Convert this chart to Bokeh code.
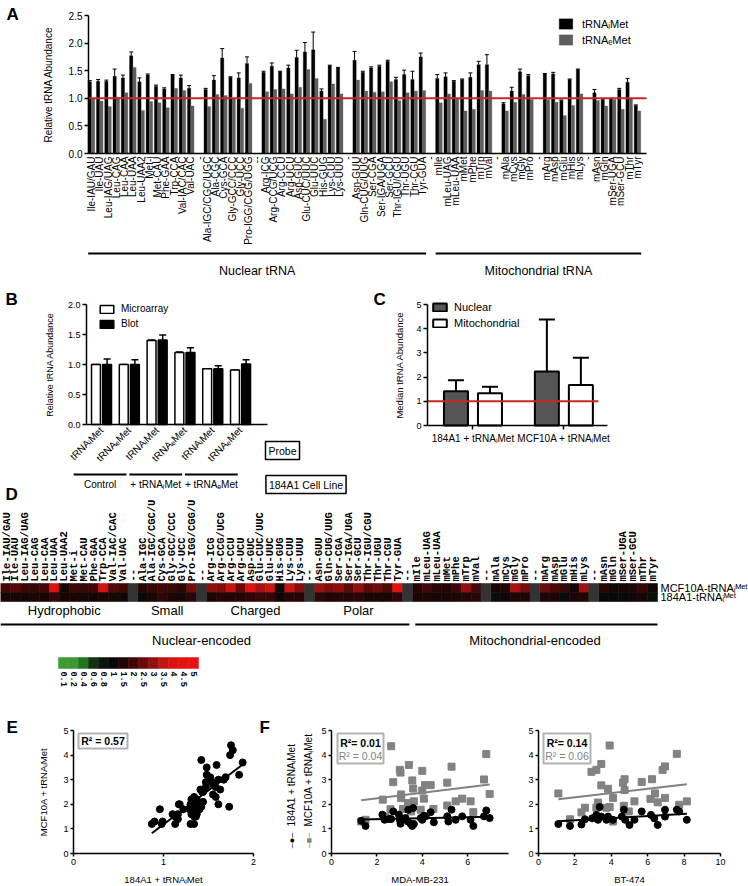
import numpy as np
from math import pi
from bokeh.plotting import figure
from bokeh.models import (Range1d, FixedTicker, Label, Legend, LegendItem, LinearAxis,
                          ColumnDataSource, Whisker, TeeHead, BoxAnnotation,
                          PrintfTickFormatter)
from bokeh.core.properties import value
from bokeh.embed import file_html
from bokeh.resources import INLINE

# ---------------- data ----------------
a_labels = ["Ile-IAU/GAU", "Ile-UAU", "Leu-IAG/UAG", "Leu-CAG", "Leu-CAA", "Leu-UAA", "Leu-UAA2",
            "Met-i", "Met-CAU", "Phe-GAA", "Trp-CCA", "Val-IAC/CAC", "Val-UAC", "-",
            "Ala-IGC/CGC/UGC", "Ala-CGC", "Cys-GCA", "Gly-GCC/CCC", "Gly-UCC", "Pro-IGG/CGG/UGG", "--",
            "Arg-ICG", "Arg-CCG/UCG", "Arg-CCU", "Arg-UCU", "Asp-GUC", "Glu-CUC/UUC", "Glu-UUC",
            "His-GUG", "Lys-CUU", "Lys-UUU", "-",
            "Asn-GUU", "Gln-CUG/UUG", "Ser-CGA", "Ser-IGA/UGA", "Ser-GCU", "Thr-IGU/CGU", "Thr-UGU",
            "Thr-CGU", "Tyr-GUA", "-",
            "mIle", "mLeu-UAG", "mLeu-UAA", "mMet", "mPhe", "mTrp", "mVal", "-",
            "mAla", "mCys", "mGly", "mPro", "-",
            "mArg", "mAsp", "mGlu", "mHis", "mLys", "-",
            "mAsn", "mGln", "mSer-UGA", "mSer-GCU", "mThr", "mTyr"]

heat_labels = ["Ile-IAU/GAU", "Ile-UAU", "Leu-IAG/UAG", "Leu-CAG", "Leu-CAA", "Leu-UAA", "Leu-UAA2",
               "Met-i", "Met-CAU", "Phe-GAA", "Trp-CCA", "Val-IAC/CAC", "Val-UAC", "--",
               "Ala-IGC", "Ala-IGC/CGC/U", "Cys-GCA", "Gly-GCC/CCC", "Gly-UCC", "Pro-IGG/CGG/U", "--",
               "Arg-ICG", "Arg-CCG/UCG", "Arg-CCU", "Arg-UCU", "Asp-GUC", "Glu-CUC/UUC", "Glu-UUC",
               "His-GUG", "Lys-CUU", "Lys-UUU", "--",
               "Asn-GUU", "Gln-CUG/UUG", "Ser-CGA", "Ser-IGA/UGA", "Ser-GCU", "Thr-IGU/CGU", "Thr-UGU",
               "Thr-CGU", "Tyr-GUA", "--",
               "mIle", "mLeu-UAG", "mLeu-UAA", "mMet", "mPhe", "mTrp", "mVal", "--",
               "mAla", "mCys", "mGly", "mPro", "--",
               "mArg", "mAsp", "mGlu", "mHis", "mLys", "--",
               "mAsn", "mGln", "mSer-UGA", "mSer-GCU", "mThr", "mTyr"]

# 184A1 + tRNAiMet (black bars, bottom heatmap row, x of panel E)
a_imet = [1.30, 1.31, 1.31, 1.40, 1.37, 1.77, 1.30, 1.42, 1.22, 1.17, 1.42, 1.37, 1.18, None,
          1.16, 1.33, 1.73, 1.38, 1.37, 1.63, None,
          1.47, 1.58, 1.48, 1.55, 1.74, 1.84, 1.88, 1.13, 1.59, 1.55, None,
          1.69, 1.47, 1.55, 1.58, 1.67, 1.34, 1.43, 1.34, 1.75, None,
          1.36, 1.39, 1.31, 1.34, 1.38, 1.61, 1.61, None,
          0.90, 1.13, 1.48, 1.41, None,
          1.44, 1.44, 0.96, 1.34, 1.52, None,
          1.10, 0.98, 0.99, 1.16, 1.29, 0.87]
a_imet_err = [0.02, 0.03, 0.02, 0.13, 0.05, 0.07, 0.07, 0.02, 0.02, 0.02, 0.01, 0.05, 0.05, None,
              0.02, 0.08, 0.17, 0.01, 0.09, 0.12, None,
              0.02, 0.06, 0.01, 0.05, 0.13, 0.17, 0.32, 0.04, 0.01, 0.01, None,
              0.16, 0.02, 0.02, 0.02, 0.02, 0.04, 0.08, 0.15, 0.07, None,
              0.07, 0.07, 0.01, 0.01, 0.08, 0.06, 0.18, None,
              0.02, 0.07, 0.05, 0.02, None,
              0.01, 0.03, 0.01, 0.01, 0.01, None,
              0.06, 0.01, 0.01, 0.02, 0.07, 0.01]
a_emet = [1.00, 0.95, 0.85, 1.02, 1.10, 1.56, 0.78, 0.94, 0.92, 0.83, 1.18, 1.14, 0.86, None,
          0.85, 1.07, 1.05, 1.00, 0.82, 1.27, None,
          1.12, 1.16, 1.17, 1.08, 1.20, 1.52, 1.36, 0.62, 1.26, 1.08, None,
          1.33, 1.13, 1.11, 1.12, 1.30, 0.96, 1.10, 1.13, 1.14, None,
          0.92, 1.08, 0.99, 0.77, 0.80, 1.14, 1.13, None,
          0.77, 0.93, 1.07, 0.98, None,
          0.98, 0.93, 0.69, 0.87, 1.08, None,
          0.96, 0.86, 0.98, 0.80, 0.99, 0.77]
# MCF10A + tRNAiMet (top heatmap row, y of panel E)
mcf_imet = [2.0, 2.2, 1.9, 1.8, 2.0, 4.2, 1.2, 1.9, 1.8, 2.0, 3.8, 2.2, 2.0, None,
            1.6, 1.8, 1.9, 1.8, 1.6, 2.6, None,
            2.9, 2.7, 3.5, 2.4, 4.0, 3.2, 3.7, 1.2, 3.6, 2.8, None,
            3.1, 2.7, 2.9, 2.3, 3.0, 2.3, 2.5, 2.1, 4.4, None,
            1.5, 2.0, 1.6, 1.5, 1.9, 3.0, 2.0, None,
            1.3, 1.5, 3.2, 2.6, None,
            2.5, 2.1, 1.8, 1.2, 3.1, None,
            1.6, 1.2, 1.3, 1.4, 1.8, 1.2]

b_probes = ["tRNAᵢMet", "tRNAₑMet", "tRNAᵢMet", "tRNAₑMet", "tRNAᵢMet", "tRNAₑMet"]
b_groups = ["Control", "+ tRNAᵢMet", "+ tRNAₑMet"]
b_micro = [1.00, 1.00, 1.40, 1.20, 0.93, 0.91]
b_micro_err = [0.0, 0.0, 0.01, 0.01, 0.0, 0.0]
b_blot = [1.00, 1.00, 1.41, 1.20, 0.93, 1.01]
b_blot_err = [0.09, 0.08, 0.08, 0.08, 0.05, 0.07]

c_groups = ["184A1 + tRNAᵢMet", "MCF10A + tRNAᵢMet"]
c_nuc = [1.42, 2.23]
c_nuc_lo = [1.10, 1.30]
c_nuc_hi = [1.87, 4.38]
c_mito = [1.33, 1.67]
c_mito_lo = [0.87, 1.00]
c_mito_hi = [1.60, 2.80]

h_rows = ["184A1-tRNAᵢᴹᵉᵗ", "MCF10A-tRNAᵢᴹᵉᵗ"]
h_groups = ["Hydrophobic", "Small", "Charged", "Polar"]
h_compartments = ["Nuclear-encoded", "Mitochondrial-encoded"]
cb_levels = ["0.1", "0.2", "0.4", "0.6", "0.8", "1", "1.5", "2", "2.5", "3", "3.5", "4", "4.5", "5"]
cb_colors = ["#3c9b33", "#3a9732", "#1f7421", "#113512", "#0c140c", "#080808", "#220505",
             "#420808", "#6c0b0b", "#931010", "#bf1515", "#dc1313", "#e41111", "#e81010"]

e_r2 = "R² = 0.57"

f_mda_x_mcf = [1.31, 1.50, 2.26, 2.38, 2.63, 2.72, 2.60, 3.01, 3.04, 3.07, 3.07, 3.15, 3.41, 3.37, 3.49,
               3.56, 3.60, 3.63, 3.51, 4.00, 4.00, 4.07, 4.12, 4.37, 3.93, 4.49, 5.10, 5.29, 5.10, 5.47,
               5.76, 6.13, 6.25, 6.72, 6.82, 6.97]
f_mda_y_mcf = [1.30, 1.37, 2.19, 1.50, 4.36, 2.90, 1.80, 3.40, 3.29, 2.40, 2.25, 1.81, 3.60, 2.05, 1.89,
               2.97, 2.64, 2.12, 1.71, 3.36, 2.56, 2.23, 2.78, 2.78, 1.78, 1.81, 2.88, 3.53, 1.95, 2.12,
               2.23, 2.12, 1.68, 3.01, 4.04, 2.42]
f_mda_x_184 = [1.31, 1.50, 2.24, 2.34, 2.53, 2.63, 2.72, 2.97, 3.01, 3.04, 3.12, 3.26, 3.37, 3.38, 3.49,
               3.56, 3.60, 3.63, 3.93, 4.00, 4.07, 4.15, 4.37, 4.51, 5.10, 5.15, 5.29, 5.47, 5.76, 6.13,
               6.25, 6.72, 6.82, 6.97]
f_mda_y_184 = [1.33, 1.12, 1.58, 1.37, 1.40, 1.40, 1.71, 1.58, 1.37, 1.21, 1.37, 1.44, 1.30, 1.78, 1.20,
               1.12, 1.85, 1.20, 1.44, 1.37, 1.53, 1.51, 1.68, 1.27, 1.51, 1.30, 1.78, 1.37, 1.51, 1.37,
               1.12, 1.51, 1.75, 1.44]
f_bt_x_mcf = [1.09, 1.73, 2.36, 2.55, 2.91, 3.18, 3.45, 3.45, 3.27, 3.18, 3.82, 3.91, 3.73, 3.91, 4.09,
              4.09, 4.64, 4.73, 4.73, 4.69, 4.96, 5.27, 5.67, 6.24, 6.15, 6.40, 6.55, 6.95, 6.82, 6.95,
              7.60, 7.73, 8.15]
f_bt_y_mcf = [2.44, 1.39, 1.67, 1.86, 3.32, 3.40, 3.64, 2.77, 2.07, 1.86, 2.63, 4.39, 1.86, 1.89, 2.26,
              1.30, 2.88, 3.02, 2.58, 1.94, 1.71, 2.12, 2.91, 3.02, 2.22, 2.44, 2.08, 2.26, 3.40, 3.54,
              4.05, 1.98, 2.12]
f_bt_x_184 = [1.09, 1.73, 2.36, 2.55, 2.95, 3.18, 3.36, 3.27, 3.45, 3.73, 3.82, 4.09, 4.58, 4.69, 4.76,
              5.00, 5.27, 5.67, 6.18, 6.36, 6.55, 6.95, 6.95, 7.60, 7.73, 8.15]
f_bt_y_184 = [1.20, 1.12, 1.18, 1.39, 1.43, 1.57, 1.89, 1.37, 1.50, 1.37, 1.50, 1.37, 1.50, 1.78, 1.37,
              1.16, 1.37, 1.71, 1.57, 1.43, 1.16, 1.78, 1.50, 1.78, 1.71, 1.37]
f_r2 = [("R²= 0.01", "R² = 0.04"), ("R²= 0.14", "R² = 0.06")]
f_xlabels = ["MDA-MB-231", "BT-474"]
f_series = ["184A1 + tRNAᵢMet", "MCF10A + tRNAᵢMet"]

# ---------------- canvas & helpers ----------------
W, H = 748, 886
FONT = "Liberation Sans"
MONO = "Liberation Mono"
RED = "#c8262b"
GRAY = "#5e5e5e"
LGRAY = "#828282"

p = figure(width=W, height=H, x_range=Range1d(0, W), y_range=Range1d(H, 0),
           x_axis_type=None, y_axis_type=None, output_backend="svg",
           toolbar_location=None, min_border=0, title=None)
p.outline_line_color = None
p.background_fill_color = "white"
p.border_fill_color = "white"

XR, YR = {}, {}


def panel(name, px0, px1, ptop, pbot, x0, x1, y0, y1):
    dx = (x1 - x0) / (px1 - px0)
    XR[name] = Range1d(x0 - px0 * dx, x0 + (W - px0) * dx)
    dy = (y1 - y0) / (pbot - ptop)
    YR[name] = Range1d(y0 - (H - pbot) * dy, y0 + pbot * dy)


def mkaxis(side, name, fixed, bounds, ticks, size="9px", overrides=None, orient=None,
           fmt=None, label=None, label_size="10px", label_standoff=5, tick_out=4,
           line=True, font=FONT, bold=False, standoff=2):
    ax = LinearAxis(x_range_name=name, y_range_name=name, fixed_location=fixed,
                    bounds=bounds, ticker=FixedTicker(ticks=ticks))
    ax.axis_line_width = 1.5
    ax.axis_line_color = "black" if line else None
    ax.major_tick_line_width = 1.5
    ax.major_tick_line_color = "black" if tick_out else None
    ax.major_tick_in = 0
    ax.major_tick_out = tick_out
    ax.minor_tick_line_color = None
    ax.major_label_text_font = font
    ax.major_label_text_font_size = size
    ax.major_label_text_font_style = "bold" if bold else "normal"
    ax.major_label_text_color = "black"
    ax.major_label_standoff = standoff
    if overrides is not None:
        ax.major_label_overrides = overrides
    if orient is not None:
        ax.major_label_orientation = orient
    if fmt is not None:
        ax.formatter = PrintfTickFormatter(format=fmt)
    if label is not None:
        ax.axis_label = label
        ax.axis_label_text_font = FONT
        ax.axis_label_text_font_style = "normal"
        ax.axis_label_text_font_size = label_size
        ax.axis_label_text_color = "black"
        ax.axis_label_standoff = label_standoff
    p.add_layout(ax, side)


def mk_legend(items, left, top, gw, gh, spacing, size, standoff=6):
    height = len(items) * gh + (len(items) - 1) * spacing
    leg = Legend(items=[LegendItem(label=l, renderers=[r]) for l, r in items],
                 location=(left, H - (top + height)), orientation="vertical",
                 glyph_width=gw, glyph_height=gh, label_height=gh, spacing=spacing,
                 padding=0, margin=0, border_line_color=None, background_fill_alpha=0,
                 label_text_font=FONT, label_text_font_size=size, label_standoff=standoff,
                 label_text_color="black")
    p.add_layout(leg)


def lab(x, y, text, size="10px", bold=False, color="black", align="center",
        baseline="middle", angle=0, font=FONT, box=False, xr="default"):
    kw = {}
    if box:
        kw = dict(border_line_color="black", border_line_width=1.5,
                  background_fill_color="white", padding=3)
    p.add_layout(Label(x=x, y=y, text=text, text_font=font, text_font_size=size,
                       text_font_style="bold" if bold else "normal", text_color=color,
                       text_align=align, text_baseline=baseline, angle=angle,
                       x_range_name=xr, **kw))


def txt(xs, ys, texts, name="default", size="10px", align="center", bold=False):
    p.text(x=xs, y=ys, text=texts, x_range_name=name, text_font=value(FONT),
           text_font_size=size, text_align=align, text_baseline="middle",
           text_font_style="bold" if bold else "normal", text_color="black")


def hex2rgb(h):
    return tuple(int(h[i:i + 2], 16) for i in (1, 3, 5))


CB_VALS = [float(v) for v in cb_levels]


def heat_color(v):
    cs = [hex2rgb(c) for c in cb_colors]
    if v <= CB_VALS[0]:
        return cb_colors[0]
    if v >= CB_VALS[-1]:
        return cb_colors[-1]
    for k in range(len(CB_VALS) - 1):
        if CB_VALS[k] <= v <= CB_VALS[k + 1]:
            t = (v - CB_VALS[k]) / (CB_VALS[k + 1] - CB_VALS[k])
            c = [round(cs[k][j] + t * (cs[k + 1][j] - cs[k][j])) for j in range(3)]
            return "#%02x%02x%02x" % tuple(c)


N = len(a_labels)
idx = [i for i, v in enumerate(a_imet) if v is not None]
gaps = [i for i, v in enumerate(a_imet) if v is None]
first_m = next(i for i, t in enumerate(a_labels) if t.startswith("m"))

# panel geometry (frames in page pixels) and data windows
AX = (-0.36, 67.09)
panel("A", 88, 646, 15, 153, AX[0], AX[1], 0, 2.5)
BX = (-0.54, 5.97)
panel("B", 86, 267, 304, 424, BX[0], BX[1], 0, 2)
CX = (-0.5, 1.48)
panel("C", 427, 607, 304, 425, CX[0], CX[1], 0, 5)
HX = (-0.5, N - 0.5)
panel("H", 0, 657, 583, 601, HX[0], HX[1], 0, 2)
CBX = (-0.5, len(cb_levels) - 0.5)
panel("CB", 58, 198, 657, 668, CBX[0], CBX[1], 0, 1)
panel("E", 73, 253, 730, 853, 0, 2, 0, 5)
panel("F1", 331, 508, 730, 853, 0, 7.8, 0, 5)
panel("F2", 538, 720, 730, 853, 0, 10, 0, 5)
p.extra_x_ranges = XR
p.extra_y_ranges = YR

# ---------------- Panel A ----------------
srcA = ColumnDataSource(dict(
    xi=[i - 0.2 for i in idx], xe=[i + 0.2 for i in idx],
    imet=[a_imet[i] for i in idx], emet=[a_emet[i] for i in idx],
    up=[a_imet[i] + a_imet_err[i] for i in idx]))
rI = p.vbar(x="xi", top="imet", width=0.4, source=srcA, fill_color="black",
            line_color="black", line_width=0.3, x_range_name="A", y_range_name="A")
rE = p.vbar(x="xe", top="emet", width=0.4, source=srcA, fill_color=GRAY,
            line_color=GRAY, line_width=0.3, x_range_name="A", y_range_name="A")
p.add_layout(Whisker(source=srcA, base="xi", lower="imet", upper="up", line_width=1,
                     line_color="black", x_range_name="A", y_range_name="A",
                     upper_head=TeeHead(size=4, line_width=1, line_color="black"),
                     lower_head=None))
p.segment(x0=[AX[0]], x1=[AX[1]], y0=[1], y1=[1], line_color=RED, line_width=2,
          x_range_name="A", y_range_name="A")
mkaxis("below", "A", 0, AX, list(range(N)), "10px",
       overrides={i: t for i, t in enumerate(a_labels)}, orient=pi / 2, tick_out=0,
       standoff=3)
mkaxis("left", "A", AX[0], (0, 2.5), [0, 0.5, 1, 1.5, 2, 2.5], "10px", fmt="%.1f",
       label="Relative tRNA Abundance", label_size="10px", label_standoff=12)
mk_legend([("tRNAᵢMet", rI), ("tRNAₑMet", rE)], 557, 17, 17, 13, 3, "11px", 8)
spans = [(-0.4, first_m - 2 + 0.45), (first_m - 0.4, N - 1 + 0.45)]
p.segment(x0=[s[0] for s in spans], x1=[s[1] for s in spans], y0=[253, 253],
          y1=[253, 253], line_color="black", line_width=2, x_range_name="A")
txt([(s[0] + s[1]) / 2 for s in spans], [270, 270], ["Nuclear tRNA", "Mitochondrial tRNA"],
    "A", "12.5px")
lab(6, 4, "A", "17px", True, align="left", baseline="top")

# ---------------- Panel B ----------------
xs_b = list(range(len(b_probes)))
srcB = ColumnDataSource(dict(
    xm=[i - 0.2 for i in xs_b], xb=[i + 0.2 for i in xs_b],
    micro=b_micro, blot=b_blot,
    mup=[v + e for v, e in zip(b_micro, b_micro_err)],
    bup=[v + e for v, e in zip(b_blot, b_blot_err)]))
rM = p.vbar(x="xm", top="micro", width=0.32, source=srcB, fill_color="white",
            line_color="black", line_width=1.5, x_range_name="B", y_range_name="B")
rB = p.vbar(x="xb", top="blot", width=0.32, source=srcB, fill_color="black",
            line_color="black", line_width=1.5, x_range_name="B", y_range_name="B")
for base, lo, up in [("xm", "micro", "mup"), ("xb", "blot", "bup")]:
    p.add_layout(Whisker(source=srcB, base=base, lower=lo, upper=up, line_width=1.5,
                         line_color="black", x_range_name="B", y_range_name="B",
                         upper_head=TeeHead(size=7, line_width=1.5, line_color="black"),
                         lower_head=None))
mkaxis("below", "B", 0, BX, xs_b, "10px", overrides={i: t for i, t in enumerate(b_probes)},
       orient=pi / 4, tick_out=0, standoff=4)
mkaxis("left", "B", BX[0], (0, 2), [0, 0.5, 1, 1.5, 2], "9px", fmt="%.1f",
       label="Relative tRNA Abundance", label_size="9px", label_standoff=10)
mk_legend([("Microarray", rM), ("Blot", rB)], 98, 305, 17, 10, 4, "10px", 6)
lab(282, 450, "Probe", "10.5px", box=True)
gx0 = [2 * g - 1.0 for g in range(len(b_groups))]
gx1 = [2 * g + 0.9 for g in range(len(b_groups))]
p.segment(x0=gx0, x1=gx1, y0=[474] * 3, y1=[474] * 3, line_color="black", line_width=2,
          x_range_name="B")
txt([2 * g - 0.05 for g in range(len(b_groups))], [484] * 3, b_groups, "B", "10px")
lab(305.5, 484, "184A1 Cell Line", "10.5px", box=True)
lab(5, 289, "B", "17px", True, align="left", baseline="top")

# ---------------- Panel C ----------------
xs_c = list(range(len(c_groups)))
srcC = ColumnDataSource(dict(
    xn=[g - 0.187 for g in xs_c], xm=[g + 0.187 for g in xs_c],
    nuc=c_nuc, nlo=c_nuc_lo, nhi=c_nuc_hi, mito=c_mito, mlo=c_mito_lo, mhi=c_mito_hi))
rN = p.vbar(x="xn", top="nuc", width=0.264, source=srcC, fill_color="#555555",
            line_color="black", line_width=2, x_range_name="C", y_range_name="C")
rMi = p.vbar(x="xm", top="mito", width=0.264, source=srcC, fill_color="white",
             line_color="black", line_width=2, x_range_name="C", y_range_name="C")
for base, lo, up in [("xn", "nlo", "nhi"), ("xm", "mlo", "mhi")]:
    p.add_layout(Whisker(source=srcC, base=base, lower=lo, upper=up, line_width=2,
                         line_color="black", x_range_name="C", y_range_name="C",
                         upper_head=TeeHead(size=16, line_width=2, line_color="black"),
                         lower_head=TeeHead(size=16, line_width=2, line_color="black")))
p.segment(x0=[CX[0]], x1=[CX[1] - 0.1], y0=[1], y1=[1], line_color=RED, line_width=2,
          x_range_name="C", y_range_name="C")
mkaxis("below", "C", 0, CX, xs_c, "10px", overrides={i: t for i, t in enumerate(c_groups)},
       standoff=3)
mkaxis("left", "C", CX[0], (0, 5), [0, 1, 2, 3, 4, 5], "9px",
       label="Median tRNA Abundance", label_size="9.5px", label_standoff=8)
mk_legend([("Nuclear", rN), ("Mitochondrial", rMi)], 431, 305, 17, 10, 4, "11px", 6)
lab(373, 289, "C", "17px", True, align="left", baseline="top")

# ---------------- Panel D (heatmap) ----------------
hx, hy, hc, hh = [], [], [], []
for i in idx:
    hx += [i, i]
    hy += [1.5, 0.5]
    hh += [1, 1]
    hc += [heat_color(mcf_imet[i]), heat_color(a_imet[i])]
for i in gaps:
    hx.append(i)
    hy.append(1.0)
    hh.append(2)
    hc.append("#333333")
p.rect(x=hx, y=hy, width=1, height=hh, fill_color=hc, line_color=hc, line_width=0.6,
       x_range_name="H", y_range_name="H")
mkaxis("above", "H", 2, HX, list(range(N)), "10.5px",
       overrides={i: t for i, t in enumerate(heat_labels)}, orient=pi / 2, tick_out=0,
       line=False, font=MONO, bold=True, standoff=2)
mkaxis("right", "H", HX[1], (0, 2), [0.5, 1.5], "11px",
       overrides={0.5: h_rows[0], 1.5: h_rows[1]}, tick_out=0, line=False, standoff=3)
grp_ranges = []
start = 0
for i in gaps[:len(h_groups)]:
    grp_ranges.append((start, i - 1))
    start = i + 1
txt([(a + b) / 2 for a, b in grp_ranges], [610] * len(h_groups), h_groups, "H", "13px")
comp = [(-0.5, first_m - 1 + 0.2), (first_m - 1 + 0.8, N - 0.5)]
p.segment(x0=[c[0] for c in comp], x1=[c[1] for c in comp], y0=[624, 624], y1=[624, 624],
          line_color="black", line_width=2, x_range_name="H")
txt([(0 + first_m - 2) / 2, (first_m + N - 1) / 2], [640, 640], h_compartments, "H", "13px")
lab(5, 484, "D", "17px", True, align="left", baseline="top")

# colour bar
p.rect(x=list(range(len(cb_levels))), y=0.5, width=1, height=1, fill_color=cb_colors,
       line_color=cb_colors, line_width=0.5, x_range_name="CB", y_range_name="CB")
mkaxis("below", "CB", 0, CBX, list(range(len(cb_levels))), "8.5px",
       overrides={i: t for i, t in enumerate(cb_levels)}, orient=-pi / 2, tick_out=0,
       line=False, font=MONO, bold=True, standoff=3)

# ---------------- Panel E ----------------
e_x = [a_imet[i] for i in idx]
e_y = [mcf_imet[i] for i in idx]
p.scatter(e_x, e_y, marker="circle", size=7, fill_color="black", line_color="black",
          x_range_name="E", y_range_name="E")
k, b0 = np.polyfit(e_x, e_y, 1)
ex_line = [min(e_x), max(e_x)]
p.line(ex_line, [k * v + b0 for v in ex_line], line_color="black", line_width=2,
       x_range_name="E", y_range_name="E")
mkaxis("below", "E", 0, (0, 2), [0, 1, 2], "9px", tick_out=3, label="184A1 + tRNAᵢMet",
       label_size="9.5px", label_standoff=6)
mkaxis("left", "E", 0, (0, 5), [0, 1, 2, 3, 4, 5], "9px", tick_out=3,
       label="MCF10A + tRNAᵢMet", label_size="9.5px", label_standoff=11)
p.add_layout(BoxAnnotation(left=78, right=127, top=733, bottom=748, fill_color=None,
                           line_color="black", line_width=2))
lab(102.5, 740.5, e_r2, "10.5px", True)
lab(6, 717, "E", "17px", True, align="left", baseline="top")

# ---------------- Panel F ----------------
f_defs = [("F1", (0, 7.8), [0, 2, 4, 6], f_mda_x_184, f_mda_y_184, f_mda_x_mcf, f_mda_y_mcf,
           (337, 383)),
          ("F2", (0, 10), [0, 2, 4, 6, 8, 10], f_bt_x_184, f_bt_y_184, f_bt_x_mcf, f_bt_y_mcf,
           (543, 590))]
for n, (name, xr, ticks, x184, y184, xm, ym, box) in enumerate(f_defs):
    p.scatter(xm, ym, marker="square", size=7, fill_color=LGRAY, line_color=LGRAY,
              x_range_name=name, y_range_name=name)
    p.scatter(x184, y184, marker="circle", size=7, fill_color="black", line_color="black",
              x_range_name=name, y_range_name=name)
    km, bm = np.polyfit(xm, ym, 1)
    xl = [min(xm), max(xm)]
    p.line(xl, [km * v + bm for v in xl], line_color=LGRAY, line_width=2,
           x_range_name=name, y_range_name=name)
    kb, bb = np.polyfit(x184, y184, 1)
    xl = [min(x184), max(x184)]
    p.line(xl, [kb * v + bb for v in xl], line_color="black", line_width=2,
           x_range_name=name, y_range_name=name)
    mkaxis("below", name, 0, xr, ticks, "9px", tick_out=3, label=f_xlabels[n],
           label_size="9.5px", label_standoff=6)
    mkaxis("left", name, 0, (0, 5), [0, 1, 2, 3, 4, 5], "9px", tick_out=3)
    p.add_layout(BoxAnnotation(left=box[0], right=box[1], top=733, bottom=763,
                               fill_color=None, line_color="black", line_width=2))
    cx = (box[0] + box[1]) / 2
    lab(cx, 742, f_r2[n][0], "10.5px", True)
    lab(cx, 755, f_r2[n][1], "10.5px", False, color=LGRAY)
lab(259, 717, "F", "17px", True, align="left", baseline="top")
lab(291, 826, f_series[0], "10px", align="left", angle=pi / 2)
lab(308, 826, f_series[1], "10px", align="left", angle=pi / 2)
lab(291, 840, "–●–", "9px", angle=pi / 2)
lab(308, 840, "–■–", "9px", color=LGRAY, angle=pi / 2)

open("out.html", "w").write(file_html(p, INLINE, title="tRNA abundance"))
